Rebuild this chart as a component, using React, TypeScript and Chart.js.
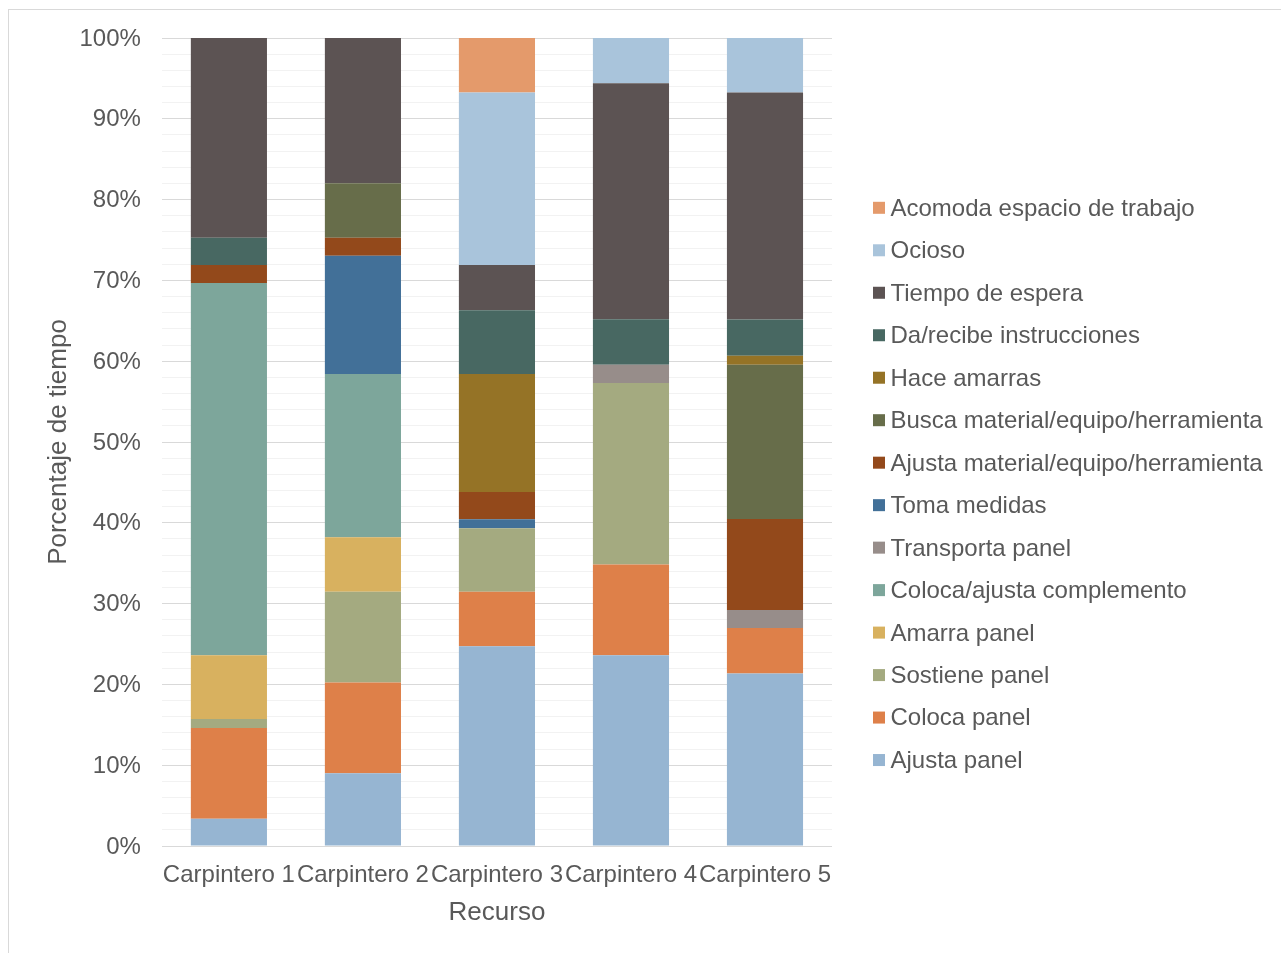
import React, { useEffect, useRef } from "react";
import { Chart, registerables } from "chart.js";

Chart.register(...registerables);

// Categories along the x axis
const recursos = ["Carpintero 1", "Carpintero 2", "Carpintero 3", "Carpintero 4", "Carpintero 5"];

// Share of time (%) per activity, one value per carpenter
const ajustaPanel = [3.37, 8.99, 24.72, 23.6, 21.35];
const colocaPanel = [11.24, 11.24, 6.74, 11.24, 5.62];
const sostienePanel = [1.12, 11.24, 7.87, 22.47, 0];
const amarraPanel = [7.87, 6.74, 0, 0, 0];
const colocaComplemento = [46.07, 20.22, 0, 0, 0];
const transportaPanel = [0, 0, 0, 2.25, 2.25];
const tomaMedidas = [0, 14.61, 1.12, 0, 0];
const ajustaMaterial = [2.25, 2.25, 3.37, 0, 11.24];
const buscaMaterial = [0, 6.74, 0, 0, 19.1];
const haceAmarras = [0, 0, 14.61, 0, 1.12];
const daRecibe = [3.37, 0, 7.87, 5.62, 4.49];
const tiempoEspera = [24.72, 17.98, 5.62, 29.21, 28.09];
const ocioso = [0, 0, 21.35, 5.62, 6.74];
const acomoda = [0, 0, 6.74, 0, 0];

// Stacking order, bottom to top
const series = [
  { label: "Ajusta panel", data: ajustaPanel, color: "#96B5D2" },
  { label: "Coloca panel", data: colocaPanel, color: "#DE8049" },
  { label: "Sostiene panel", data: sostienePanel, color: "#A4AA80" },
  { label: "Amarra panel", data: amarraPanel, color: "#D8B15F" },
  { label: "Coloca/ajusta complemento", data: colocaComplemento, color: "#7DA69B" },
  { label: "Transporta panel", data: transportaPanel, color: "#978D8A" },
  { label: "Toma medidas", data: tomaMedidas, color: "#427098" },
  { label: "Ajusta material/equipo/herramienta", data: ajustaMaterial, color: "#93491B" },
  { label: "Busca material/equipo/herramienta", data: buscaMaterial, color: "#676D4A" },
  { label: "Hace amarras", data: haceAmarras, color: "#957326" },
  { label: "Da/recibe instrucciones", data: daRecibe, color: "#486862" },
  { label: "Tiempo de espera", data: tiempoEspera, color: "#5C5353" },
  { label: "Ocioso", data: ocioso, color: "#A9C4DB" },
  { label: "Acomoda espacio de trabajo", data: acomoda, color: "#E49A6B" },
];

const FONT = "'Liberation Sans', Arial, Helvetica, sans-serif";
const TEXT = "#595959";

// Legend listed top-down in reverse stacking order, to the right of the plot area
const sideLegend = {
  id: "sideLegend",
  afterDraw(chart: any) {
    const { ctx, chartArea } = chart;
    const items = chart.data.datasets
      .map((d: any) => ({ label: d.label, color: d.backgroundColor }))
      .reverse();
    const rowGap = 42.48;
    const boxX = chartArea.right + 41;
    const textX = chartArea.right + 58.5;
    const firstY = chartArea.top + 170.3;
    ctx.save();
    ctx.font = `24px ${FONT}`;
    ctx.textBaseline = "middle";
    ctx.textAlign = "left";
    items.forEach((it: any, k: number) => {
      const cy = firstY + k * rowGap;
      ctx.fillStyle = it.color;
      ctx.fillRect(boxX, cy - 6.5, 12, 12);
      ctx.fillStyle = TEXT;
      ctx.fillText(it.label, textX, cy + 0.8);
    });
    ctx.restore();
  },
};

export default function App() {
  const canvasRef = useRef<HTMLCanvasElement | null>(null);

  useEffect(() => {
    const canvas = canvasRef.current;
    if (!canvas) return;
    const chart = new Chart(canvas, {
      type: "bar",
      data: {
        labels: recursos,
        datasets: series.map((s) => ({
          label: s.label,
          data: s.data,
          backgroundColor: s.color,
          borderWidth: 0,
          barPercentage: 0.568,
          categoryPercentage: 1,
        })),
      },
      plugins: [sideLegend],
      options: {
        responsive: false,
        animation: false,
        devicePixelRatio: 1,
        layout: { padding: { left: 42.4, top: 38, right: 449, bottom: 24 } },
        plugins: {
          tooltip: { enabled: false },
          legend: { display: false },
        },
        scales: {
          x: {
            stacked: true,
            grid: { display: false },
            border: { display: false },
            ticks: {
              color: TEXT,
              font: { family: FONT, size: 24 },
              padding: 6.6,
              maxRotation: 0,
              autoSkip: false,
            },
            title: {
              display: true,
              text: "Recurso",
              color: TEXT,
              font: { family: FONT, size: 26 },
              padding: { top: 0, bottom: 0.6 },
            },
            afterFit: (s: any) => {
              s.height = 83;
            },
          },
          y: {
            stacked: true,
            min: 0,
            max: 100,
            border: { display: false },
            grid: {
              drawTicks: false,
              color: (ctx: any) => (ctx.tick && ctx.tick.value % 10 === 0 ? "#D9D9D9" : "#F2F2F2"),
            },
            ticks: {
              stepSize: 2,
              autoSkip: false,
              padding: 21,
              labelOffset: 1,
              color: TEXT,
              font: { family: FONT, size: 24 },
              callback: (v: any) => (Number(v) % 10 === 0 ? `${v}%` : ""),
            },
            title: {
              display: true,
              text: "Porcentaje de tiempo",
              color: TEXT,
              font: { family: FONT, size: 26 },
              padding: { top: 0.6, bottom: 0 },
            },
            afterFit: (s: any) => {
              s.width = 119.5;
            },
          },
        },
      },
    } as any);
    return () => chart.destroy();
  }, []);

  return (
    <>
      <div
        style={{
          position: "fixed",
          left: 8,
          top: 9,
          width: 2000,
          height: 2000,
          border: "1px solid #D9D9D9",
          background: "#FFFFFF",
        }}
      />
      <canvas
        ref={canvasRef}
        width={1281}
        height={953}
        style={{ position: "fixed", left: 0, top: 0, width: 1281, height: 953 }}
      />
    </>
  );
}
